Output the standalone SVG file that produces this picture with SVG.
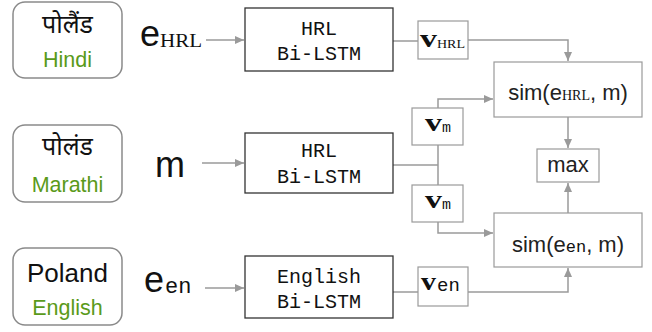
<svg xmlns="http://www.w3.org/2000/svg" width="652" height="332" viewBox="0 0 652 332">
<style>
.lang{fill:#fff;stroke:#8a8a8a;stroke-width:1.5}
.lstm{fill:#fff;stroke:#333;stroke-width:1.3}
.gbox{fill:#fff;stroke:#9a9a9a;stroke-width:1.2}
.dev{font-family:"Noto Sans Devanagari","Noto Sans","Liberation Sans",sans-serif;font-size:25px;fill:#111;text-anchor:middle}
.word{font-family:"Liberation Sans",Arial,sans-serif;font-size:26px;fill:#111;text-anchor:middle}
.green{font-family:"Liberation Sans",Arial,sans-serif;font-size:21.5px;fill:#5a9a1a;text-anchor:middle}
.big{font-family:"Liberation Sans",Arial,sans-serif;font-size:36px;fill:#111}
.mono{font-family:"Liberation Mono","Courier New",monospace;font-size:20px;fill:#111;text-anchor:middle}
.sub{font-family:"Liberation Mono","Courier New",monospace;fill:#111}
.sc{font-family:"Liberation Serif","Times New Roman",serif;fill:#111}
.vb{font-family:"Liberation Serif","Times New Roman",serif;font-weight:bold;font-size:25px;fill:#111}
.lab{font-family:"Liberation Sans",Arial,sans-serif;font-size:22px;fill:#222}
.conn{fill:none;stroke:#9a9a9a;stroke-width:1.5}
</style>
<defs>
<marker id="arr" markerUnits="userSpaceOnUse" markerWidth="10" markerHeight="10" refX="9" refY="5" orient="auto">
<path d="M0,1 L9,5 L0,9 Z" fill="#9a9a9a"/>
</marker>
</defs>

<g id="connectors">
<path class="conn" d="M206,40 H244" marker-end="url(#arr)"/>
<path class="conn" d="M202,163 H244" marker-end="url(#arr)"/>
<path class="conn" d="M205,288 H244" marker-end="url(#arr)"/>
<path class="conn" d="M393,41 H418"/>
<path class="conn" d="M468,40 H568 V61" marker-end="url(#arr)"/>
<path class="conn" d="M393,165 H438"/>
<path class="conn" d="M438,145 V185"/>
<path class="conn" d="M438,108 V99 H493" marker-end="url(#arr)"/>
<path class="conn" d="M438,222 V233 H493" marker-end="url(#arr)"/>
<path class="conn" d="M393,292 H418"/>
<path class="conn" d="M468,292 H568 V268" marker-end="url(#arr)"/>
<path class="conn" d="M568,117 V148" marker-end="url(#arr)"/>
<path class="conn" d="M568,213 V183" marker-end="url(#arr)"/>
</g>

<g id="hindi">
<rect class="lang" x="13" y="2" width="109" height="76" rx="12"/>
<text class="dev" x="67.5" y="33">पोलैंड</text>
<text class="green" x="67.5" y="67">Hindi</text>
</g>
<g id="marathi">
<rect class="lang" x="13" y="125" width="109" height="77" rx="12"/>
<text class="dev" x="67.5" y="155">पोलंड</text>
<text class="green" x="67.5" y="192">Marathi</text>
</g>
<g id="english">
<rect class="lang" x="13" y="248" width="109" height="77" rx="12"/>
<text class="word" x="67.5" y="282">Poland</text>
<text class="green" x="67.5" y="315">English</text>
</g>

<g id="e_hrl">
<text class="big" x="140" y="46">e</text>
<text class="sc" x="160" y="47" font-size="19" textLength="42" lengthAdjust="spacingAndGlyphs">HRL</text>
</g>
<g id="m">
<text class="big" x="155" y="177">m</text>
</g>
<g id="e_en">
<text class="big" x="144" y="292">e</text>
<text class="sub" x="165" y="293" font-size="22">en</text>
</g>

<g id="lstm_hrl_1">
<rect class="lstm" x="245" y="8" width="148" height="63"/>
<text class="mono" x="319" y="35">HRL</text>
<text class="mono" x="319" y="60">Bi-LSTM</text>
</g>
<g id="lstm_hrl_2">
<rect class="lstm" x="245" y="133" width="148" height="60"/>
<text class="mono" x="319" y="157">HRL</text>
<text class="mono" x="319" y="183">Bi-LSTM</text>
</g>
<g id="lstm_en">
<rect class="lstm" x="245" y="256" width="148" height="62"/>
<text class="mono" x="319" y="283">English</text>
<text class="mono" x="319" y="308">Bi-LSTM</text>
</g>

<g id="v_hrl">
<rect class="gbox" x="418" y="21" width="50" height="38"/>
<text class="vb" x="420" y="47" textLength="17" lengthAdjust="spacingAndGlyphs">v</text>
<text class="sc" x="437" y="48" font-size="13" textLength="28" lengthAdjust="spacingAndGlyphs">HRL</text>
</g>
<g id="v_m_1">
<rect class="gbox" x="412" y="108" width="51" height="37"/>
<text class="vb" x="425" y="131" textLength="17" lengthAdjust="spacingAndGlyphs">v</text>
<text class="sub" x="442" y="132" font-size="15">m</text>
</g>
<g id="v_m_2">
<rect class="gbox" x="412" y="185" width="51" height="37"/>
<text class="vb" x="425" y="208" textLength="17" lengthAdjust="spacingAndGlyphs">v</text>
<text class="sub" x="442" y="209" font-size="15">m</text>
</g>
<g id="v_en">
<rect class="gbox" x="418" y="267" width="50" height="39"/>
<text class="vb" x="421" y="290" textLength="15" lengthAdjust="spacingAndGlyphs">v</text>
<text class="sub" x="437" y="291" font-size="19">en</text>
</g>

<g id="sim_hrl">
<rect class="gbox" x="494" y="62" width="148" height="55"/>
<text class="lab" x="568" y="100" text-anchor="middle">sim(e<tspan class="sc" font-size="14">HRL</tspan>, m)</text>
</g>
<g id="max">
<rect class="gbox" x="537" y="149" width="62" height="33"/>
<text class="lab" x="568" y="172" text-anchor="middle" font-size="20">max</text>
</g>
<g id="sim_en">
<rect class="gbox" x="494" y="213" width="148" height="54"/>
<text class="lab" x="568" y="252" text-anchor="middle">sim(e<tspan class="sub" font-size="17">en</tspan>, m)</text>
</g>
</svg>
